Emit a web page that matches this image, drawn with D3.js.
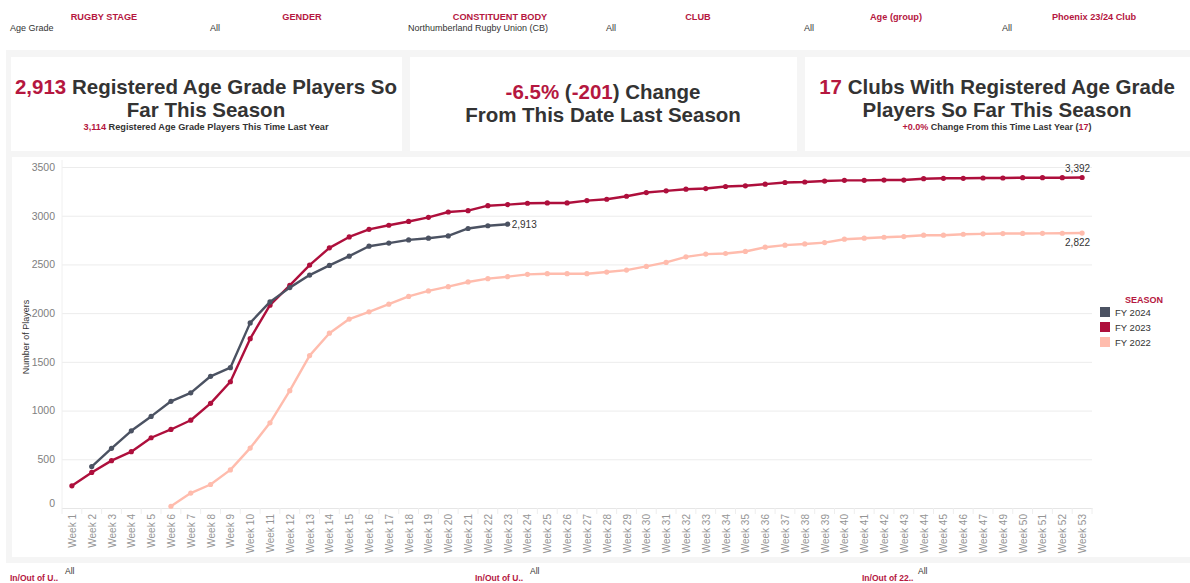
<!DOCTYPE html>
<html><head><meta charset="utf-8">
<script src="https://cdn.jsdelivr.net/npm/d3@7"></script>
<style>
html,body{margin:0;padding:0;background:#fff;}
svg{display:block;font-family:"Liberation Sans",Arial,sans-serif;}
</style></head>
<body>
<svg id="c" width="1190" height="583"></svg>
<script>
// ---- DATA ----
const weeks = ["Week 1","Week 2","Week 3","Week 4","Week 5","Week 6","Week 7","Week 8","Week 9","Week 10",
"Week 11","Week 12","Week 13","Week 14","Week 15","Week 16","Week 17","Week 18","Week 19","Week 20",
"Week 21","Week 22","Week 23","Week 24","Week 25","Week 26","Week 27","Week 28","Week 29","Week 30",
"Week 31","Week 32","Week 33","Week 34","Week 35","Week 36","Week 37","Week 38","Week 39","Week 40",
"Week 41","Week 42","Week 43","Week 44","Week 45","Week 46","Week 47","Week 49","Week 50","Week 51",
"Week 52","Week 53"];
// null = no value that week
const fy2024 = [null,425,612,792,940,1095,1182,1352,1440,1900,2115,2262,2391,2490,2585,2687,2719,2752,2769,2793,2869,2897,2913];
const fy2023 = [228,365,486,578,721,806,901,1074,1296,1738,2082,2286,2493,2670,2782,2860,2902,2941,2983,3038,3052,3103,3114,
3128,3131,3131,3155,3169,3200,3238,3255,3272,3279,3300,3307,3324,3341,3346,3356,3363,3363,3366,3366,3380,3384,3384,3387,3387,3390,3390,3390,3392];
const fy2022 = [null,null,null,null,null,18,153,241,391,615,874,1204,1564,1794,1939,2014,2092,2172,2228,2272,2320,2354,2374,
2398,2405,2405,2405,2422,2442,2480,2521,2578,2606,2612,2633,2677,2698,2710,2724,2759,2769,2779,2786,2800,2800,2810,2814,2817,2818,2819,2820,2822];
const seriesNames = ["FY 2024","FY 2023","FY 2022"];
const seriesColors = ["#4b5262","#ae0f3c","#ffbcad"];
const yTicks = [0,500,1000,1500,2000,2500,3000,3500];
const filterLabels = ["RUGBY STAGE","GENDER","CONSTITUENT BODY","CLUB","Age (group)","Phoenix 23/24 Club"];
const filterValues = ["Age Grade","All","Northumberland Rugby Union (CB)","All","All","All"];
const bottomLabels = ["In/Out of U..","In/Out of U..","In/Out of 22.."];
const bottomValues = ["All","All","All"];

const RED = "#b5173f", DARK = "#333333";
const svg = d3.select("#c");

// ---- backgrounds ----
svg.append("rect").attr("x",6).attr("y",50).attr("width",1184).attr("height",513).attr("fill","#f5f5f5");
const cards = [[11,57,391,94],[410,57,387,94],[805,57,385,94]];
cards.forEach(c=>svg.append("rect").attr("x",c[0]).attr("y",c[1]).attr("width",c[2]).attr("height",c[3]).attr("fill","#fff"));
svg.append("rect").attr("x",12).attr("y",157).attr("width",1178).attr("height",400).attr("fill","#fff");

// ---- filter header ----
const colW = 198, col0 = 5;
filterLabels.forEach((l,i)=>{
  svg.append("text").attr("x",col0+i*colW+99).attr("y",20).attr("text-anchor","middle")
    .attr("font-size",9.2).attr("font-weight","bold").attr("fill",RED).text(l);
  svg.append("text").attr("x",col0+i*colW+(i===0?5:7)).attr("y",31)
    .attr("font-size",9).attr("fill",DARK).text(filterValues[i]);
});

// ---- KPI cards ----
function richLine(x,y,size,parts,weight){
  const t = svg.append("text").attr("x",x).attr("y",y).attr("text-anchor","middle")
    .attr("font-size",size).attr("font-weight",weight||"bold");
  parts.forEach(p=>t.append("tspan").attr("fill",p[1]).text(p[0]));
  return t;
}
richLine(206,94,20.5,[["2,913",RED],[" Registered Age Grade Players So",DARK]]);
richLine(206,117,20.5,[["Far This Season",DARK]]);
richLine(206,130,9.2,[["3,114",RED],[" Registered Age Grade Players This Time Last Year",DARK]]);
richLine(603,99,20.5,[["-6.5%",RED],[" (",DARK],["-201",RED],[") Change",DARK]]);
richLine(603,122,20.5,[["From This Date Last Season",DARK]]);
richLine(997,94,20.5,[["17",RED],[" Clubs With Registered Age Grade",DARK]]);
richLine(997,117,20.5,[["Players So Far This Season",DARK]]);
richLine(997,130,9,[["+0.0%",RED],[" Change From this Time Last Year  (",DARK],["17",RED],[")",DARK]]);

// ---- chart ----
const L=62, R=1092, T=160, B=508;
const x = d3.scalePoint().domain(weeks).range([L,R]).padding(0.5);
const y = d3.scaleLinear().domain([0,3500]).range([B,167]);

// gridlines
svg.append("g").attr("transform",`translate(${L},0)`)
  .call(d3.axisLeft(y).tickValues(yTicks).tickSize(-(R-L)).tickFormat(""))
  .call(g=>g.select(".domain").remove())
  .call(g=>g.selectAll("line").attr("stroke","#ececec").attr("stroke-width",1));
// y labels
const ya = svg.append("g").attr("transform",`translate(${L},0)`)
  .call(d3.axisLeft(y).tickValues(yTicks).tickSize(0).tickPadding(7).tickFormat(d3.format("d")));
ya.select(".domain").remove();
ya.selectAll("text").attr("fill","#808080").attr("font-size",10.5).attr("font-family","Liberation Sans, Arial")
  .attr("dy",d=>d===0?"-0.1em":"0.32em");
// left vertical line
svg.append("line").attr("x1",L).attr("x2",L).attr("y1",T).attr("y2",B).attr("stroke","#f0f0f0");
// x axis
const xa = svg.append("g").attr("transform",`translate(0,${B})`)
  .call(d3.axisBottom(x).tickSize(0).tickPadding(0));
xa.select(".domain").attr("stroke","#e6e6e6");
xa.selectAll("text").attr("fill","#959595").attr("font-size",10).attr("font-family","Liberation Sans, Arial")
  .attr("transform","rotate(-90)").attr("text-anchor","end").attr("x",-6).attr("y",0).attr("dy","0.35em");
// separators between categories
const step = x.step();
svg.append("g").selectAll("line").data(weeks.concat(["_end"])).join("line")
  .attr("x1",(d,i)=>L+i*step).attr("x2",(d,i)=>L+i*step)
  .attr("y1",B).attr("y2",B+6).attr("stroke","#eeeeee");

svg.append("text").attr("transform",`translate(29,337) rotate(-90)`).attr("text-anchor","middle")
  .attr("font-size",9).attr("fill",DARK).text("Number of Players");

const series = [fy2024,fy2023,fy2022];
const line = d3.line().defined(d=>d.v!==null).x(d=>x(d.w)).y(d=>y(d.v));
// draw FY2022 first, then 2023, then 2024 on top
[2,1,0].forEach(si=>{
  const pts = series[si].map((v,i)=>({w:weeks[i],v:v}));
  svg.append("path").datum(pts).attr("d",line).attr("fill","none")
    .attr("stroke",seriesColors[si]).attr("stroke-width",2.4).attr("stroke-linejoin","round");
  svg.append("g").selectAll("circle").data(pts.filter(d=>d.v!==null)).join("circle")
    .attr("cx",d=>x(d.w)).attr("cy",d=>y(d.v)).attr("r",2.6).attr("fill",seriesColors[si]);
});

// end labels
const fmt = d3.format(",");
const last24 = fy2024.length-1;
svg.append("text").attr("x",x(weeks[last24])+4).attr("y",y(fy2024[last24])+4)
  .attr("font-size",10).attr("fill",DARK).text(fmt(fy2024[last24]));
const l23 = fy2023.length-1;
svg.append("text").attr("x",x(weeks[l23])+8).attr("y",y(fy2023[l23])-6).attr("text-anchor","end")
  .attr("font-size",10).attr("fill",DARK).text(fmt(fy2023[l23]));
const l22 = fy2022.length-1;
svg.append("text").attr("x",x(weeks[l22])+8).attr("y",y(fy2022[l22])+13).attr("text-anchor","end")
  .attr("font-size",10).attr("fill",DARK).text(fmt(fy2022[l22]));

// legend
svg.append("text").attr("x",1144).attr("y",303).attr("text-anchor","middle")
  .attr("font-size",9).attr("font-weight","bold").attr("fill",RED).text("SEASON");
seriesNames.forEach((n,i)=>{
  svg.append("rect").attr("x",1100).attr("y",307+i*15).attr("width",10).attr("height",10).attr("fill",seriesColors[i]);
  svg.append("text").attr("x",1115).attr("y",315.5+i*15).attr("font-size",9.5).attr("fill",DARK).text(n);
});

// bottom filters
const bx = [10,475,862];
bottomLabels.forEach((l,i)=>{
  svg.append("text").attr("x",bx[i]).attr("y",581).attr("font-size",8.5).attr("font-weight","bold").attr("fill",RED).text(l);
  svg.append("text").attr("x",bx[i]+(i===2?56:55)).attr("y",574).attr("font-size",8.5).attr("fill",DARK).text(bottomValues[i]);
});
</script>
</body></html>
